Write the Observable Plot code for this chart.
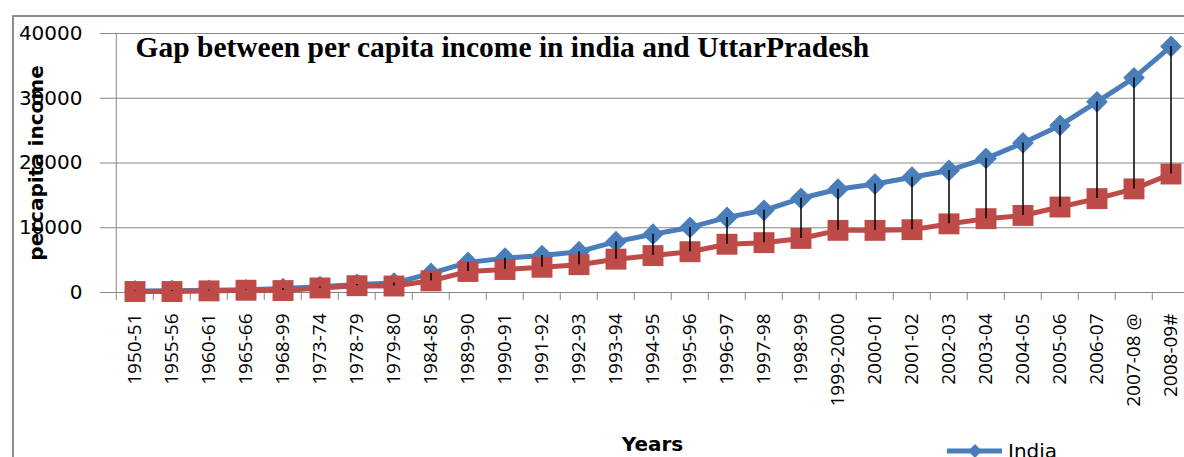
<!DOCTYPE html>
<html><head><meta charset="utf-8">
<script src="https://cdn.jsdelivr.net/npm/d3@7"></script>
<script src="https://cdn.jsdelivr.net/npm/@observablehq/plot@0.6"></script>
<style>
html,body{margin:0;padding:0;background:#fff;}
#wrap{position:relative;width:1184px;height:457px;overflow:hidden;background:#fff;}
#frame{position:absolute;left:12px;top:15px;width:1300px;height:600px;border:2px solid #8c8c8c;box-sizing:border-box;}
#chart{position:absolute;left:0;top:0;width:1196px;}
#chart svg{max-width:none !important;}
#legend{position:absolute;left:940px;top:428px;}
</style></head><body><div id="wrap"><div id="frame"></div><div id="chart"></div><div id="legend"></div></div>
<script>
const categories = ["1950-51","1955-56","1960-61","1965-66","1968-99","1973-74","1978-79","1979-80","1984-85","1989-90","1990-91","1991-92","1992-93","1993-94","1994-95","1995-96","1996-97","1997-98","1998-99","1999-2000","2000-01","2001-02","2002-03","2003-04","2004-05","2005-06","2006-07","2007-08 @","2008-09#"];
const india = [250,270,330,420,600,900,1250,1450,2950,4650,5300,5700,6300,7850,9000,10050,11600,12700,14550,15950,16750,17800,18850,20700,23100,25800,29450,33150,38000];
const up = [150,150,250,350,300,700,1050,1000,1800,3250,3550,3900,4300,5150,5700,6300,7450,7700,8350,9600,9600,9700,10600,11400,11900,13200,14500,16000,18300];
const yTicks = [0,10000,20000,30000,40000];
const seriesNames = ["India"];
const colors = ["#4a7ebb","#be4b48"];
const titleText = "Gap between per capita income in india and UttarPradesh";
const yLabel = "percapita income";
const xLabel = "Years";

const rows = categories.map((c,i)=>({year:c, india:india[i], up:up[i]}));
const W = 1196, H = 457, ML = 109, MR = 1, MT = 33, MB = 165;
const step = (W-ML-MR)/categories.length;
const gridColor = "#868686";

const plot = Plot.plot({
  width: W, height: H, marginLeft: ML, marginRight: MR, marginTop: MT, marginBottom: MB,
  style: {fontFamily: "DejaVu Sans", fontSize: "20px", background: "transparent", overflow: "visible", color:"#000", maxWidth:"none"},
  x: {type:"band", domain: categories, padding: 0, label: null},
  y: {domain:[0,40000], label: null},
  marks: [
    Plot.gridY(yTicks.filter(d=>d>0), {stroke:gridColor, strokeOpacity:1, strokeWidth:1}),
    Plot.ruleY([0], {stroke:gridColor, strokeWidth:1}),
    Plot.ruleX([categories[0]], {dx:-step/2, stroke:gridColor, strokeWidth:1}),
    Plot.axisY(yTicks, {tickSize:9, tickPadding:18, stroke:gridColor, tickFormat:"d", fontSize:20, fontFamily:"DejaVu Sans", label:null}),
    Plot.axisX({tickSize:8, dx:-step/2, stroke:gridColor, tickFormat:()=>"", label:null}),
    Plot.axisX({tickSize:0, tickRotate:-90, tickPadding:21, fontSize:19, fontFamily:"Open Sans", label:null, ariaLabel:"x-labels"}),
    Plot.line(rows, {x:"year", y:"india", stroke:colors[0], strokeWidth:5}),
    Plot.dot(rows, {x:"year", y:"india", symbol:"diamond2", r:9.8, fill:colors[0], stroke:"none"}),
    Plot.line(rows, {x:"year", y:"up", stroke:colors[1], strokeWidth:5}),
    Plot.dot(rows, {x:"year", y:"up", symbol:"square", r:11.8, fill:colors[1], stroke:"none"}),
    Plot.ruleX(rows, {x:"year", y1:"up", y2:"india", stroke:"#000", strokeWidth:1.5}),
    Plot.text([titleText], {text:d=>d, frameAnchor:"top-left", dx:26, dy:23, textAnchor:"start", lineAnchor:"bottom", fontFamily:"Liberation Serif", fontWeight:"bold", fontSize:29.5}),
    Plot.text([yLabel], {text:d=>d, frameAnchor:"left", dx:-73, rotate:-90, textAnchor:"middle", lineAnchor:"middle", fontWeight:"bold", fontSize:20}),
    Plot.text([xLabel], {text:d=>d, frameAnchor:"bottom", dy:158, lineAnchor:"bottom", fontWeight:"bold", fontSize:20})
  ]
});
plot.style.maxWidth = "none";
document.getElementById("chart").appendChild(plot);

// slightly thicken the rotated category labels (the reference glyphs are broad)
d3.select(plot).selectAll('g[aria-label="x-labels"] text').each(function(){
  const t = this.getAttribute("transform") || "";
  this.setAttribute("transform", t + " scale(1,1.15)");
});

// legend: only its first entry is visible at the bottom edge, as in the reference
const leg = d3.select("#legend").append("svg").attr("width", 244).attr("height", 29)
  .style("font-family","DejaVu Sans").style("font-size","20px");
seriesNames.forEach((name,i)=>{
  const g = leg.append("g").attr("transform", `translate(0,${23 + i*30})`);
  g.append("line").attr("x1",7).attr("x2",62).attr("y1",0).attr("y2",0).attr("stroke",colors[i]).attr("stroke-width",5);
  g.append("path").attr("d","M35,-7L42,0L35,7L28,0Z").attr("fill",colors[i]);
  g.append("text").attr("x",68).attr("y",7).text(name);
});
</script></body></html>
